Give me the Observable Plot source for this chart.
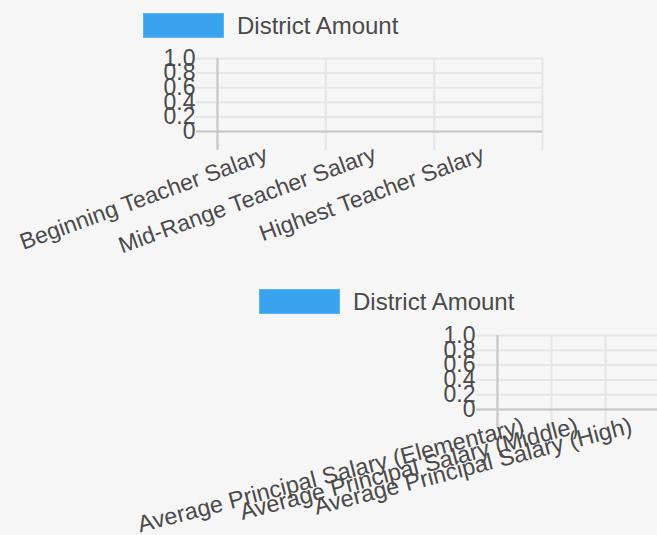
<!DOCTYPE html>
<html>
<head>
<meta charset="utf-8">
<script src="https://cdn.jsdelivr.net/npm/d3@7"></script>
<script src="https://cdn.jsdelivr.net/npm/@observablehq/plot@0.6"></script>
<style>
  html, body { margin: 0; padding: 0; background: #f6f6f6; }
  #page { position: relative; width: 657px; height: 535px; overflow: hidden; background: #f6f6f6;
          font-family: "Liberation Sans", Arial, sans-serif; }
  .legend { position: absolute; display: flex; align-items: center; height: 25px; }
  .legend .box { width: 79px; height: 23px; background: #3aa3ef; border: 1px solid #5cb3f0; }
  .legend .lab { margin-left: 13px; font-size: 24px; color: #4a4a4a; white-space: nowrap; }
  .chart { position: absolute; left: 0; width: 720px; }
  .chart svg { overflow: visible; max-width: none !important; }
</style>
</head>
<body>
<div id="page">
  <div class="legend" id="legend1" style="left:143px; top:13px;"><div class="box"></div><div class="lab"></div></div>
  <div class="chart" id="chart1" style="top:40px;"></div>
  <div class="legend" id="legend2" style="left:259px; top:289px;"><div class="box"></div><div class="lab"></div></div>
  <div class="chart" id="chart2" style="top:320px;"></div>
</div>
<script>
// ---- data ----
const seriesName = "District Amount";
const chart1Categories = ["Beginning Teacher Salary", "Mid-Range Teacher Salary", "Highest Teacher Salary"];
const chart1Values = [null, null, null];   // no data shown in the reference
const chart2Categories = ["Average Principal Salary (Elementary)", "Average Principal Salary (Middle)", "Average Principal Salary (High)"];
const chart2Values = [null, null, null];   // no data shown in the reference
const yTickValues = [0, 0.2, 0.4, 0.6, 0.8, 1.0];
const yTickLabels = ["0", "0.2", "0.4", "0.6", "0.8", "1.0"];

const gridColor = "#e6e6e6";
const axisColor = "#c6c6c6";
const textColor = "#4a4a4a";
const barColor = "#3aa3ef";
const font = "\"Liberation Sans\", Arial, sans-serif";

document.querySelectorAll(".legend .lab").forEach(el => el.textContent = seriesName);

function makeChart({categories, values, width, height, marginTop, marginBottom, marginLeft, marginRight, rotate, ldx, ldy, lsize}) {
  const n = categories.length;
  const edges = d3.range(n + 1);
  const rows = categories.map((c, i) => ({c, i, v: values[i]}));
  return Plot.plot({
    width, height, marginTop, marginBottom, marginLeft, marginRight,
    style: {background: "transparent", fontFamily: font, fontSize: "23px", color: textColor, maxWidth: "none"},
    x: {type: "linear", domain: [0, n], axis: null},
    y: {domain: [0, 1], axis: null},
    marks: [
      Plot.ruleY(yTickValues, {y: d => d, x1: 0, x2: n, stroke: gridColor, strokeWidth: 2, insetLeft: -21}),
      Plot.ruleX(edges, {x: d => d, y1: 1, y2: 0, stroke: gridColor, strokeWidth: 2, insetBottom: -19}),
      Plot.rectY(rows.filter(r => r.v != null), {x1: r => r.i + 0.1, x2: r => r.i + 0.9, y: r => r.v, fill: barColor}),
      Plot.ruleX([0], {x: d => d, y1: 1, y2: 0, stroke: axisColor, strokeWidth: 2, insetBottom: -19}),
      Plot.ruleY([0], {y: d => d, x1: 0, x2: n, stroke: axisColor, strokeWidth: 2, insetLeft: -21}),
      Plot.text(yTickValues, {x: 0, y: d => d, text: (d, i) => yTickLabels[i], textAnchor: "end", dx: -22, fill: textColor, fontSize: 23}),
      Plot.text(rows, {x: r => r.i + 0.5, y: 0, text: r => r.c, rotate, textAnchor: "end", dx: ldx, dy: ldy, fill: textColor, fontSize: lsize})
    ]
  });
}

document.getElementById("chart1").append(makeChart({
  categories: chart1Categories, values: chart1Values,
  width: 657, height: 230, marginTop: 18, marginBottom: 139, marginLeft: 217, marginRight: 115,
  rotate: -20, ldx: -5, ldy: 22, lsize: 23
}));
document.getElementById("chart2").append(makeChart({
  categories: chart2Categories, values: chart2Values,
  width: 700, height: 215, marginTop: 15, marginBottom: 126, marginLeft: 497, marginRight: 41,
  rotate: -14.5, ldx: -1, ldy: 16, lsize: 23.5
}));
</script>
</body>
</html>
